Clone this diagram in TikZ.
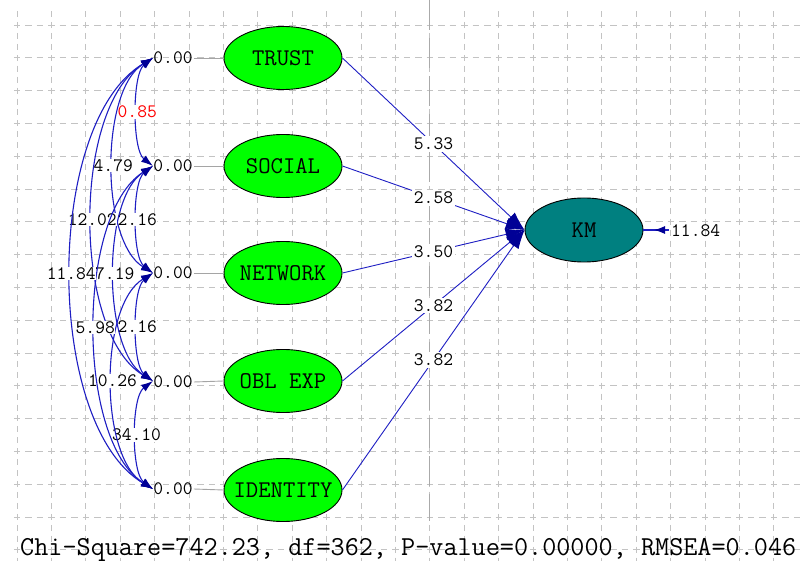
\documentclass[tikz,border=0pt]{standalone}
\usepackage{fontspec}
\usetikzlibrary{arrows.meta,shapes.geometric,calc}
\definecolor{limeg}{RGB}{0,255,0}
\definecolor{tealk}{RGB}{0,128,128}
\definecolor{lineb}{RGB}{30,30,195}
\definecolor{headb}{RGB}{0,0,150}
\definecolor{gridg}{RGB}{195,195,195}
\definecolor{gridm}{RGB}{170,170,170}
\definecolor{conng}{RGB}{165,165,165}
\newcommand\numfont{\ttfamily\fontsize{19}{19}\selectfont}
\newcommand\lvfont{\ttfamily\fontsize{24}{24}\selectfont}
\newcommand\bigfont{\ttfamily\fontsize{27.4}{27.4}\selectfont}
\newcommand\covar[5]{%
  \draw[cov] (t#1) .. controls ($(t#1)!0.15!(t#2)+(-#3,0)$) and ($(t#1)!0.85!(t#2)+(-#3,0)$) .. (t#2)
    node[covlbl,pos=0.5,#5]{#4};}
\begin{document}
\begin{tikzpicture}[x=1pt,y=-1pt,
  gridh/.style={draw=gridg,line width=0.8pt,dash pattern=on 6.47pt off 5pt},
  gridv/.style={draw=gridg,line width=0.8pt,dash pattern=on 6pt off 4.93pt},
  gridmajor/.style={draw=gridm,line width=1.3pt,dash pattern=on 30pt off 8pt},
  latent/.style={ellipse,draw=black,line width=0.9pt,fill=limeg,minimum width=118pt,minimum height=63pt,inner sep=0pt,font=\lvfont},
  errlbl/.style={font=\numfont,inner sep=1pt},
  covlbl/.style={font=\numfont,fill=white,inner sep=0.5pt},
  pathlbl/.style={font=\numfont,fill=white,inner sep=1.5pt},
  conn/.style={draw=conng,line width=0.9pt},
  cov/.style={draw=lineb,line width=1.1pt,{Latex[length=12pt,width=8pt,color=headb]}-{Latex[length=12pt,width=8pt,color=headb]}},
  path/.style={draw=lineb,line width=0.9pt,-{Latex[length=19pt,width=12pt,color=headb]}}
  ]
\useasboundingbox (0,0) rectangle (801,561);
\fill[white] (0,0) rectangle (801,561);
% grid
\foreach \k in {0,...,22} { \draw[gridv] ({17+34.4*\k},11.07) -- ({17+34.4*\k},561); }
\foreach \k in {0,...,16} { \draw[gridh] (13.8,{25+32.8*\k}) -- (801,{25+32.8*\k}); }
\draw[gridmajor] (429.8,0) -- (429.8,521);

% latent variables
\node[latent] (trust) at (283,58) {\makebox[0pt]{TRUST}};
\node[latent] (social) at (283,166) {\makebox[0pt]{SOCIAL}};
\node[latent] (network) at (283,273) {\makebox[0pt]{NETWORK}};
\node[latent] (oblexp) at (283,381) {\makebox[0pt]{OBL EXP}};
\node[latent] (identity) at (283,490) {\makebox[0pt]{IDENTITY}};
\node[latent,fill=tealk,minimum height=64pt] (km) at (584,230) {\makebox[0pt]{KM}};

% error labels
\node[errlbl] (e1) at (173,58) {0.00};
\node[errlbl] (e2) at (173,166) {0.00};
\node[errlbl] (e3) at (173,273) {0.00};
\node[errlbl] (e4) at (173,382) {0.00};
\node[errlbl] (e5) at (173,489) {0.00};
\draw[conn] (e1.east) -- (trust.west);
\draw[conn] (e2.east) -- (social.west);
\draw[conn] (e3.east) -- (network.west);
\draw[conn] (e4.east) -- (oblexp.west);
\draw[conn] (e5.east) -- (identity.west);

% arrow tips of covariances
\coordinate (t1) at (153,58);
\coordinate (t2) at (153,166);
\coordinate (t3) at (153,273);
\coordinate (t4) at (153,381);
\coordinate (t5) at (153,489);

% covariances
\covar{1}{2}{21}{0.85}{text=red}
\covar{2}{3}{21}{2.16}{}
\covar{3}{4}{21}{2.16}{}
\covar{4}{5}{22}{34.10}{}
\covar{1}{3}{53}{4.79}{}
\covar{2}{4}{51}{7.19}{}
\covar{3}{5}{54}{10.26}{}
\covar{1}{4}{81}{12.02}{}
\covar{2}{5}{77}{5.98}{}
\covar{1}{5}{109}{11.84}{}

% structural paths
\draw[path] (trust.east) -- node[pathlbl]{5.33} (km.west);
\draw[path] (social.east) -- node[pathlbl]{2.58} (km.west);
\draw[path] (network.east) -- node[pathlbl]{3.50} (km.west);
\draw[path] (oblexp.east) -- node[pathlbl]{3.82} (km.west);
\draw[path] (identity.east) -- node[pathlbl]{3.82} (km.west);

% KM error
\coordinate (kme) at (669,230);
\node[errlbl,anchor=west] (kmerr) at (670,231) {11.84};
\draw[draw=lineb,line width=1.2pt] (km.east) -- (kme);
\draw[draw=lineb,line width=1.2pt,-{Latex[length=11pt,width=8pt,color=headb]}] (kme) -- ([xshift=-15pt]kme);

% fit statistics
\node[font=\bigfont,anchor=base west,inner sep=0pt] (fit) at (20,555) {Chi-Square=742.23, df=362, P-value=0.00000, RMSEA=0.046};
\end{tikzpicture}
\end{document}
